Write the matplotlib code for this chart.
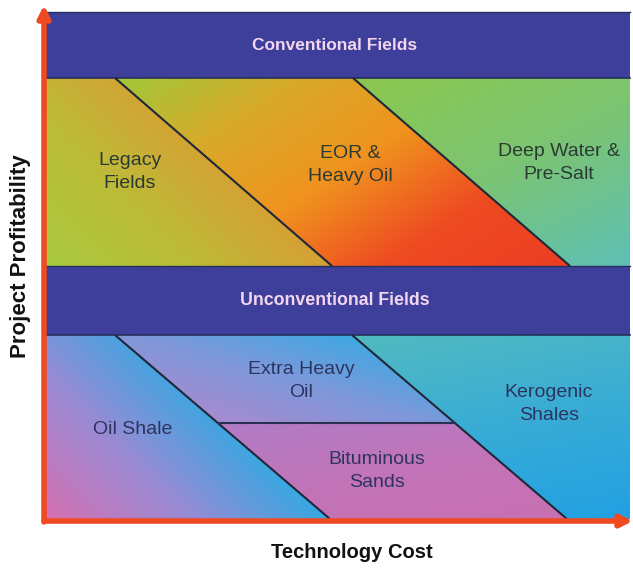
import numpy as np
import matplotlib
matplotlib.use("Agg")
import matplotlib.pyplot as plt
from matplotlib.patches import Polygon
from matplotlib.colors import LinearSegmentedColormap

# ---------------- data (diagram layout in pixel units of the 633x568 canvas) ----
band_labels = ["Conventional Fields", "Unconventional Fields"]
band_rows = [(12, 78), (266, 335)]          # y-extent of the two blue bands
upper_row = (78, 266)                        # conventional sub-region rows
lower_row = (335, 519)                       # unconventional sub-region rows
plot_x = (46, 630)                           # left / right of the diagram

upper_dividers = [(115, 332), (353, 570)]    # x at top, x at bottom of each slanted line
lower_dividers = [(115, 330), (352, 567)]
lower_split_y = 423                          # horizontal line inside middle unconventional zone

upper_labels = ["Legacy\nFields", "EOR &\nHeavy Oil", "Deep Water &\nPre-Salt"]
upper_label_pos = [(130, 172), (350, 165), (559, 163)]
lower_labels = ["Oil Shale", "Extra Heavy\nOil", "Bituminous\nSands", "Kerogenic\nShales"]
lower_label_pos = [(133, 430), (301, 381), (377, 471), (549, 404)]

x_label = "Technology Cost"
y_label = "Project Profitability"

# colour stops and gradient direction (dx, dy in canvas units, y downward)
upper_fills = [
    (["#A8C93E", "#BCBC38", "#D6A034"], (1.0, -1.0)),
    (["#A0C83A", "#D8AA2A", "#F0921E", "#EE4A22", "#EC3E22"], (1.0, 1.5)),
    (["#8CC84E", "#7CC472", "#5EC0B6"], (0.5, 1.0)),
]
lower_fills = [
    (["#D470B0", "#9A8AD4", "#36A8E2"], (1.0, -1.0)),
    (["#3EA8E2", "#7E98DA", "#A88AD0"], (-0.3, 1.0)),
    (["#B07CC6", "#C274B8", "#C870B2"], (0.2, 1.0)),
    (["#52BAC0", "#38ACD6", "#22A0E2"], (0.2, 1.0)),
]

band_color = "#3D3F9B"
line_color = "#1E2838"
axis_color = "#F04A22"

# ---------------- drawing ----------------
W, H = 633, 568
fig = plt.figure(figsize=(W / 100, H / 100), dpi=100)
ax = fig.add_axes([0, 0, 1, 1])
ax.set_xlim(0, W)
ax.set_ylim(H, 0)
ax.axis("off")


def gradient_poly(verts, colors, direction):
    verts = np.asarray(verts, float)
    x0, y0 = verts.min(axis=0)
    x1, y1 = verts.max(axis=0)
    xs = np.linspace(x0, x1, 200)
    ys = np.linspace(y0, y1, 200)
    X, Y = np.meshgrid(xs, ys)
    d = np.array(direction, float)
    proj = X * d[0] + Y * d[1]
    pv = verts[:, 0] * d[0] + verts[:, 1] * d[1]
    t = (proj - pv.min()) / (pv.max() - pv.min())
    cmap = LinearSegmentedColormap.from_list("g", colors)
    im = ax.imshow(t, cmap=cmap, vmin=0, vmax=1, extent=(x0, x1, y1, y0),
                   origin="upper", interpolation="bilinear", zorder=1)
    patch = Polygon(verts, closed=True, facecolor="none", edgecolor="none")
    ax.add_patch(patch)
    im.set_clip_path(patch)


def zone_polys(row, dividers):
    ya, yb = row
    L, R = plot_x
    (a0, a1), (b0, b1) = dividers
    return [
        [(L, ya), (a0, ya), (a1, yb), (L, yb)],
        [(a0, ya), (b0, ya), (b1, yb), (a1, yb)],
        [(b0, ya), (R, ya), (R, yb), (b1, yb)],
    ]


up = zone_polys(upper_row, upper_dividers)
for poly, (cols, d) in zip(up, upper_fills):
    gradient_poly(poly, cols, d)

lo = zone_polys(lower_row, lower_dividers)
ya, yb = lower_row
(a0, a1), (b0, b1) = lower_dividers
f = (lower_split_y - ya) / (yb - ya)
sa = a0 + f * (a1 - a0)
sb = b0 + f * (b1 - b0)
lower_polys = [
    lo[0],
    [(a0, ya), (b0, ya), (sb, lower_split_y), (sa, lower_split_y)],
    [(sa, lower_split_y), (sb, lower_split_y), (b1, yb), (a1, yb)],
    lo[2],
]
for poly, (cols, d) in zip(lower_polys, lower_fills):
    gradient_poly(poly, cols, d)

# blue bands
band_sizes = [12.5, 12.8]
for (y0, y1), lab, fs in zip(band_rows, band_labels, band_sizes):
    ax.add_patch(Polygon([(plot_x[0], y0), (plot_x[1], y0), (plot_x[1], y1), (plot_x[0], y1)],
                         closed=True, facecolor=band_color, edgecolor="none", zorder=2))
    ax.plot([plot_x[0], plot_x[1]], [y1, y1], color="#26305A", lw=1.2, zorder=3)
    ax.plot([plot_x[0], plot_x[1]], [y0, y0], color="#26305A", lw=1.0, zorder=3)
    ax.text((plot_x[0] + plot_x[1]) / 2 - 3, (y0 + y1) / 2, lab, ha="center", va="center",
            color="#F2D6EE", fontsize=fs, fontweight="bold",
            family=["Liberation Sans", "DejaVu Sans"], zorder=4)

# slanted dividers
for row, divs in ((upper_row, upper_dividers), (lower_row, lower_dividers)):
    for (t0, t1) in divs:
        ax.plot([t0, t1], [row[0], row[1]], color=line_color, lw=1.5, zorder=3,
                solid_capstyle="butt")
ax.plot([sa, sb], [lower_split_y, lower_split_y], color="#2A3050", lw=1.5, zorder=3)

# region labels
for lab, (x, y) in zip(upper_labels, upper_label_pos):
    ax.text(x, y, lab, ha="center", va="center", color="#2C3A34", fontsize=14,
            family=["Liberation Sans", "DejaVu Sans"],
            linespacing=1.45, zorder=4)
for lab, (x, y) in zip(lower_labels, lower_label_pos):
    ax.text(x, y, lab, ha="center", va="center", color="#2E3460", fontsize=14,
            family=["Liberation Sans", "DejaVu Sans"],
            linespacing=1.45, zorder=4)

# axes arrows
ax.annotate("", xy=(44, 5), xytext=(44, 522),
            arrowprops=dict(arrowstyle="-|>,head_length=0.7,head_width=0.35",
                            color=axis_color, lw=4, shrinkA=0, shrinkB=0), zorder=5)
ax.annotate("", xy=(633, 521), xytext=(44, 521),
            arrowprops=dict(arrowstyle="-|>,head_length=0.7,head_width=0.35",
                            color=axis_color, lw=4, shrinkA=0, shrinkB=0), zorder=5)

ax.text(352, 553, x_label, ha="center", va="center", fontsize=14.5, fontweight="bold",
        color="#111111", family=["Liberation Sans", "DejaVu Sans"])
ax.text(21, 256, y_label, ha="center", va="center", rotation=90, fontsize=16,
        fontweight="bold", color="#111111", family=["Liberation Sans", "DejaVu Sans"])

fig.savefig("out.png", dpi=100)
